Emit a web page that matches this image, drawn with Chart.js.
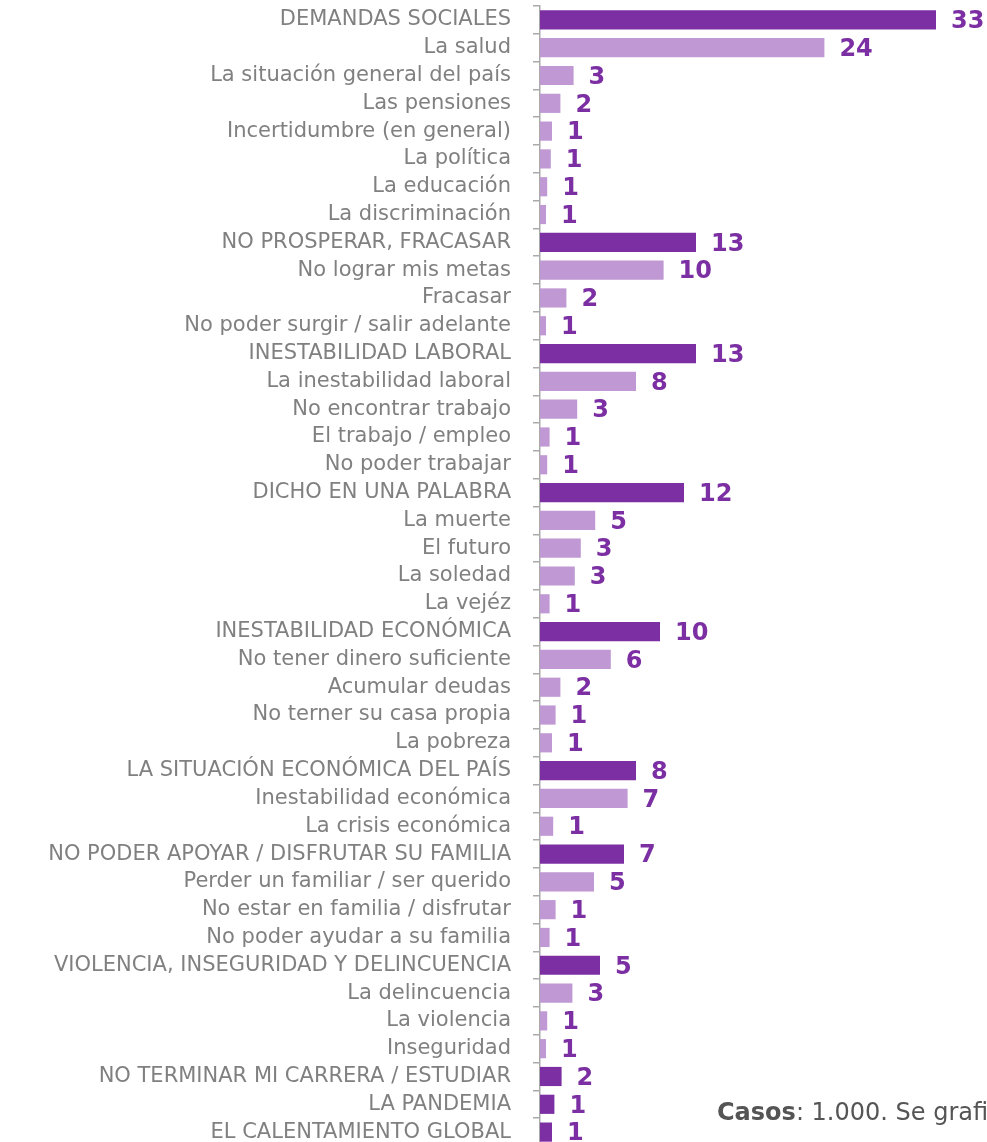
<!DOCTYPE html>
<html>
<head>
<meta charset="utf-8">
<script src="https://cdn.jsdelivr.net/npm/chart.js@4/dist/chart.umd.min.js"></script>
<style>
  html, body { margin: 0; padding: 0; background: #fff; overflow: hidden; width: 987px; height: 1142px; }
  #wrap { position: absolute; left: 0; top: 0; width: 987px; height: 1146px; }
  #note { position: absolute; left: 717px; top: 1098px; font-family: "DejaVu Sans", sans-serif; font-size: 24px; color: #555; white-space: nowrap; }
</style>
</head>
<body>
<div id="wrap"><canvas id="c"></canvas></div>
<div id="note"><b>Casos</b>: 1.000. Se grafican</div>
<script>
const categories = [
  "DEMANDAS SOCIALES", "La salud", "La situación general del país", "Las pensiones",
  "Incertidumbre (en general)", "La política", "La educación", "La discriminación",
  "NO PROSPERAR, FRACASAR", "No lograr mis metas", "Fracasar", "No poder surgir / salir adelante",
  "INESTABILIDAD LABORAL", "La inestabilidad laboral", "No encontrar trabajo", "El trabajo / empleo", "No poder trabajar",
  "DICHO EN UNA PALABRA", "La muerte", "El futuro", "La soledad", "La vejéz",
  "INESTABILIDAD ECONÓMICA", "No tener dinero suficiente", "Acumular deudas", "No terner su casa propia", "La pobreza",
  "LA SITUACIÓN ECONÓMICA DEL PAÍS", "Inestabilidad económica", "La crisis económica",
  "NO PODER APOYAR / DISFRUTAR SU FAMILIA", "Perder un familiar / ser querido", "No estar en familia / disfrutar", "No poder ayudar a su familia",
  "VIOLENCIA, INSEGURIDAD Y DELINCUENCIA", "La delincuencia", "La violencia", "Inseguridad",
  "NO TERMINAR MI CARRERA / ESTUDIAR", "LA PANDEMIA", "EL CALENTAMIENTO GLOBAL"
];
const values = [
  33, 23.7, 2.8, 1.7, 1.0, 0.9, 0.6, 0.5,
  13, 10.3, 2.2, 0.5,
  13, 8.0, 3.1, 0.8, 0.6,
  12, 4.6, 3.4, 2.9, 0.8,
  10, 5.9, 1.7, 1.3, 1.0,
  8.0, 7.3, 1.1,
  7.0, 4.5, 1.3, 0.8,
  5.0, 2.7, 0.6, 0.5,
  1.8, 1.2, 1.0
];
const valueLabels = [
  "33", "24", "3", "2", "1", "1", "1", "1",
  "13", "10", "2", "1",
  "13", "8", "3", "1", "1",
  "12", "5", "3", "3", "1",
  "10", "6", "2", "1", "1",
  "8", "7", "1",
  "7", "5", "1", "1",
  "5", "3", "1", "1",
  "2", "1", "1"
];
const isGroup = [
  1,0,0,0,0,0,0,0,
  1,0,0,0,
  1,0,0,0,0,
  1,0,0,0,0,
  1,0,0,0,0,
  1,0,0,
  1,0,0,0,
  1,0,0,0,
  1,1,1
];

const DARK = "#7B2FA2";
const LIGHT = "#C098D3";

const labelPlugin = {
  id: "valueLabels",
  afterDatasetsDraw(chart) {
    const ctx = chart.ctx;
    const meta = chart.getDatasetMeta(0);
    ctx.save();
    ctx.font = "bold 24px 'DejaVu Sans', sans-serif";
    ctx.fillStyle = DARK;
    ctx.textAlign = "left";
    ctx.textBaseline = "middle";
    meta.data.forEach((bar, i) => {
      ctx.fillText(valueLabels[i], bar.x + 15, bar.y + 2);
    });
    ctx.restore();
  }
};

new Chart(document.getElementById("c"), {
  type: "bar",
  data: {
    labels: categories,
    datasets: [{
      data: values,
      backgroundColor: isGroup.map(g => g ? DARK : LIGHT),
      borderWidth: 0,
      barPercentage: 0.69,
      categoryPercentage: 1.0
    }]
  },
  options: {
    indexAxis: "y",
    responsive: true,
    maintainAspectRatio: false,
    animation: false,
    layout: { padding: { top: 6, bottom: 0, left: 0, right: 0 } },
    plugins: { legend: { display: false }, tooltip: { enabled: false } },
    scales: {
      x: { display: false, min: 0, max: 37.25 },
      y: {
        afterFit(scale) { scale.width = 540; scale.paddingTop = 0; scale.paddingBottom = 0; },
        grid: { drawOnChartArea: false, drawTicks: true, tickLength: 7, color: "#aaaaaa", lineWidth: 1.5, offset: true },
        border: { display: true, color: "#aaaaaa", width: 1.5 },
        ticks: {
          color: "#808080",
          padding: 22,
          autoSkip: false,
          font: { family: "'DejaVu Sans', sans-serif", size: 21 }
        }
      }
    }
  },
  plugins: [labelPlugin]
});
</script>
</body>
</html>
